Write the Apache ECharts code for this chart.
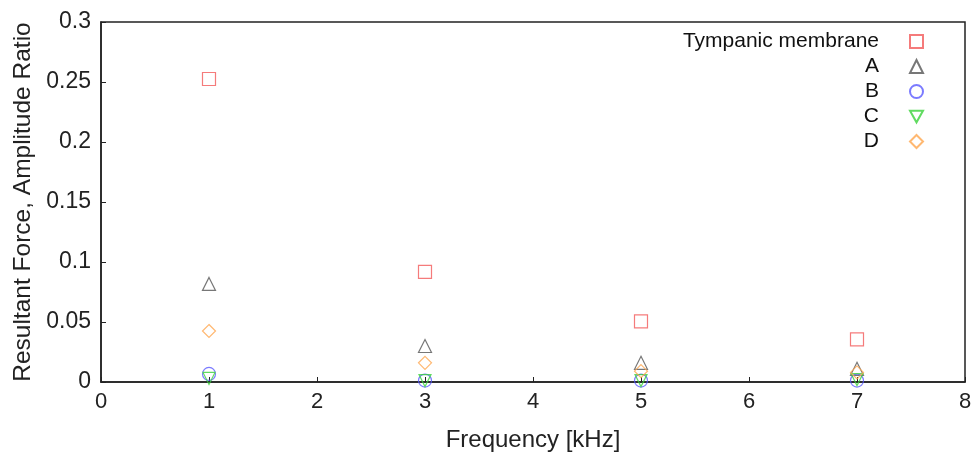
<!DOCTYPE html>
<html>
<head>
<meta charset="utf-8">
<script src="https://cdn.jsdelivr.net/npm/echarts@6/dist/echarts.min.js"></script>
<style>
  html, body { margin: 0; padding: 0; background: #fff; }
  #main { width: 973px; height: 454px; }
</style>
</head>
<body>
<div id="main"></div>
<script>
// frequencies in kHz
var freqs = [1, 3, 5, 7];

var seriesNames = ['Tympanic membrane', 'A', 'B', 'C', 'D'];
var tympanic = [0.2525, 0.0917, 0.0505, 0.0355];
var pointA = [0.0817, 0.0300, 0.0160, 0.0110];
var pointB = [0.0067, 0.0012, 0.0012, 0.0012];
var pointC = [0.0030, 0.0012, 0.0012, 0.0020];
var pointD = [0.0425, 0.0160, 0.0090, 0.0080];

var colors = ['#f25a5a', '#555555', '#5a5aff', '#3ad23a', '#ffa64d'];
var symbols = ['rect', 'triangle', 'circle', 'path://M0,0 L10,0 L5,9 Z', 'diamond'];
var sizes = [13, 13, 13, 12, 13];

var allData = [tympanic, pointA, pointB, pointC, pointD];

var myChart = echarts.init(document.getElementById('main'));

var seriesArray = [];
for (var i = 0; i < allData.length; i++) {
    var pts = [];
    for (var j = 0; j < freqs.length; j++) {
        pts.push([freqs[j], allData[i][j]]);
    }
    seriesArray.push({
        name: seriesNames[i],
        type: 'scatter',
        symbol: symbols[i],
        symbolSize: sizes[i],
        itemStyle: {
            color: 'rgba(255,255,255,0)',
            borderColor: colors[i],
            borderWidth: 1.2
        },
        data: pts
    });
}

var fontFam = '"Liberation Sans", Arial, sans-serif';

myChart.setOption({
    animation: false,
    grid: {
        left: 101, right: 8, top: 22, bottom: 72,
        outerBoundsMode: 'none',
        containLabel: false,
        show: true,
        borderColor: '#222',
        borderWidth: 1.5,
        backgroundColor: 'transparent'
    },
    legend: {
        orient: 'vertical',
        right: 44,
        top: 26,
        align: 'right',
        itemGap: 4,
        itemWidth: 13,
        itemHeight: 13,
        textStyle: { fontFamily: fontFam, fontSize: 21, color: '#111', padding: [0, 26, 0, 0] },
        data: seriesNames
    },
    xAxis: {
        type: 'value',
        min: 0, max: 8, interval: 1,
        name: 'Frequency [kHz]',
        nameLocation: 'middle',
        nameGap: 46,
        nameTextStyle: { fontFamily: fontFam, fontSize: 24, color: '#222' },
        axisLine: { show: true, lineStyle: { color: '#222', width: 1.5 } },
        axisTick: { show: true, inside: true, length: 5, lineStyle: { color: '#222' } },
        axisLabel: { fontFamily: fontFam, fontSize: 22, color: '#222', margin: 9 },
        splitLine: { show: false }
    },
    yAxis: {
        type: 'value',
        min: 0, max: 0.3, interval: 0.05,
        name: 'Resultant Force, Amplitude Ratio',
        nameLocation: 'middle',
        nameGap: 65,
        nameTextStyle: { fontFamily: fontFam, fontSize: 24.5, color: '#222' },
        axisLine: { show: true, lineStyle: { color: '#222', width: 1.5 } },
        axisTick: { show: true, inside: true, length: 5, lineStyle: { color: '#222' } },
        axisLabel: { fontFamily: fontFam, fontSize: 23, color: '#222', margin: 10 },
        splitLine: { show: false }
    },
    series: seriesArray
});
window.onresize = myChart.resize;
</script>
</body>
</html>
